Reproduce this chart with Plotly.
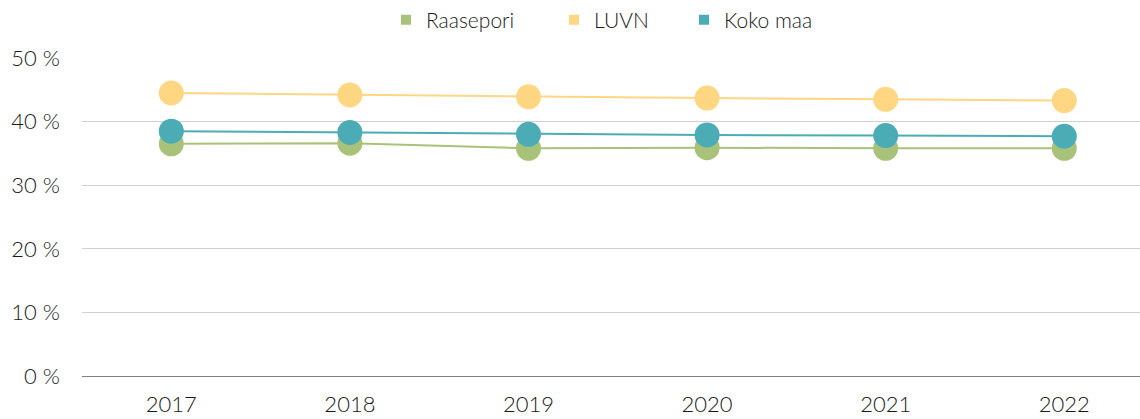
import plotly.graph_objects as go

years = ["2017", "2018", "2019", "2020", "2021", "2022"]
raasepori = [36.5, 36.6, 35.8, 35.9, 35.8, 35.8]
luvn = [44.5, 44.2, 43.9, 43.7, 43.5, 43.3]
koko_maa = [38.5, 38.3, 38.0, 37.9, 37.8, 37.7]

names = ["Raasepori", "LUVN", "Koko maa"]
colors = ["#A9C27A", "#FFD682", "#4BACB6"]
series = [raasepori, luvn, koko_maa]
legend_ids = ["legend", "legend2", "legend3"]
legend_x = [407, 575, 705]

fig = go.Figure()
for name, vals, col in zip(names, series, colors):
    fig.add_trace(go.Scatter(
        x=years, y=vals, mode="lines+markers", name=name,
        line=dict(color=col, width=2),
        marker=dict(color=col, size=25),
        showlegend=False,
    ))
for name, col, lid in zip(names, colors, legend_ids):
    fig.add_trace(go.Scatter(
        x=[None], y=[None], mode="markers", name=name,
        marker=dict(color=col, size=10, symbol="square"),
        showlegend=True, legend=lid,
    ))

legend_common = dict(orientation="h", yref="container", xref="container",
                     y=1 - 20 / 419, yanchor="middle", xanchor="left",
                     font=dict(size=21, weight=300), bgcolor="rgba(0,0,0,0)")
layout_legends = {}
for lid, px in zip(legend_ids, legend_x):
    layout_legends[lid] = dict(legend_common, x=(px - 21) / 1140)

fig.update_layout(
    width=1140, height=419,
    margin=dict(l=82, r=0, t=58, b=43),
    paper_bgcolor="white", plot_bgcolor="white",
    font=dict(family="Lato, Open Sans, sans-serif", size=22, color="#1a1a1a", weight=300),
    xaxis=dict(type="category", range=[-0.5, 5.424], showgrid=False, automargin=False,
               showline=False, ticks="", tickfont=dict(size=22, weight=300), ticklabelstandoff=13),
    yaxis=dict(range=[0, 50], dtick=10, ticksuffix=" %", showgrid=True, automargin=False,
               gridcolor="#d0d0d0", gridwidth=1, zeroline=True, zerolinecolor="#808080",
               zerolinewidth=1, ticks="", tickfont=dict(size=22, weight=300), ticklabelstandoff=21),
    showlegend=True,
    **layout_legends,
)

fig.write_html("out.html", config={"displayModeBar": False},
               post_script="document.body.style.margin='0';")
